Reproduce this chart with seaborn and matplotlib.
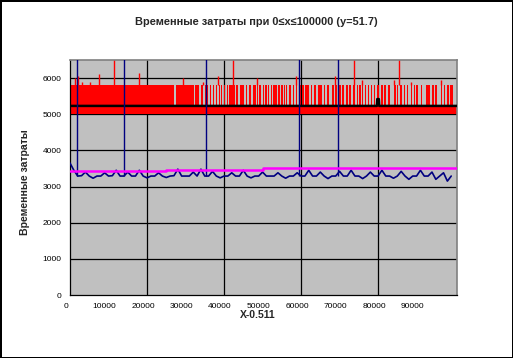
import numpy as np
import pandas as pd
import seaborn as sns
import matplotlib
matplotlib.use("Agg")
import matplotlib.pyplot as plt
from matplotlib.transforms import ScaledTranslation

# --- data ---
x_ticks = [0, 10000, 20000, 30000, 40000, 50000, 60000, 70000, 80000, 90000]
x_grid = [20000, 40000, 60000, 80000]
y_ticks = [0, 1000, 2000, 3000, 4000, 5000, 6000]

# red series: dense swings between red_lo and red_hi inside these runs,
# otherwise it stays in the lower band red_lo..red_base
red_lo = 5000
red_base = 5240
red_hi = 5800
red_run_start = [0, 27400, 32560, 34030, 35140, 36260, 37030, 37810, 38580, 39280,
                 39970, 40750, 41420, 43230, 44110, 45740, 46590, 47630, 48660, 49180,
                 50040, 50730, 51420, 52110, 52800, 53320, 54000, 54870, 55560, 56070,
                 56930, 57800, 58660, 59350, 60210, 61060, 61590, 62610, 63480, 64340,
                 65030, 65890, 66760, 67960, 68810, 69850, 70710, 71580, 72500, 73400,
                 74420, 75110, 75800, 76490, 77340, 78220, 78890, 79760, 80800, 81650,
                 82510, 84060, 84920, 85790, 86650, 87520, 88550, 89230, 89920, 91140,
                 92330, 93020, 94060, 94910, 96310, 97160, 98020, 98710]
red_run_end = [27100, 32100, 33420, 34630, 35740, 36610, 37290, 38060, 38840, 39530,
               40230, 41010, 42890, 43750, 45220, 46080, 47030, 48240, 48920, 49700,
               50390, 51080, 51760, 52450, 53150, 53660, 54520, 55210, 55900, 56410,
               57280, 58140, 59000, 59870, 60720, 61420, 62100, 62960, 63820, 64860,
               65550, 66330, 67260, 68480, 69330, 70360, 71240, 72090, 72900, 73900,
               74760, 75450, 76140, 76830, 77700, 78550, 79240, 80280, 81320, 82170,
               83030, 84580, 85270, 86130, 87000, 87860, 88890, 89590, 90440, 91470,
               92840, 93540, 94570, 95260, 96640, 97500, 98370, 99560]
red_spike_x = [1300, 2150, 3200, 5200, 7500, 11450, 17800, 29290, 34450, 38330,
               42380, 48660, 58740, 68820, 73720, 75800, 84240, 85360, 88550, 96460]
red_spike_y = [6000, 6050, 5900, 5900, 6100, 6600, 6150, 6000, 5900, 6050,
               6600, 6000, 6050, 6050, 6600, 5950, 5950, 6600, 5900, 5950]

# black (mean of red)
black_x = [0, 79700, 79800, 80200, 80300, 100500]
black_y = [5230, 5230, 5420, 5420, 5230, 5230]

# navy series, sampled every 1000
navy_x = list(range(0, 100000, 1000))
navy_y = [3650, 3450, 3290, 3300, 3400, 3290, 3230, 3290, 3290, 3380,
          3290, 3300, 3450, 3290, 3290, 3400, 3290, 3290, 3450, 3290,
          3240, 3290, 3290, 3380, 3290, 3250, 3290, 3300, 3480, 3290,
          3290, 3290, 3400, 3290, 3480, 3290, 3290, 3420, 3290, 3240,
          3290, 3290, 3380, 3290, 3290, 3450, 3290, 3240, 3290, 3290,
          3400, 3290, 3290, 3290, 3380, 3290, 3230, 3290, 3290, 3380,
          3290, 3290, 3450, 3290, 3290, 3400, 3290, 3220, 3290, 3290,
          3420, 3290, 3290, 3450, 3290, 3290, 3220, 3290, 3400, 3290,
          3290, 3450, 3290, 3290, 3230, 3290, 3420, 3290, 3200, 3290,
          3290, 3450, 3290, 3290, 3400, 3200, 3290, 3380, 3150, 3290]
navy_spike_x = [1900, 14000, 35200, 59350, 69600]
navy_spike_y = [6600, 6600, 6600, 6600, 6600]
navy_base = 3290

# magenta (mean of navy), steps
magenta_x = [0, 25000, 50000, 75000, 100500]
magenta_y = [3440, 3470, 3500, 3525, 3525]

sns.set_theme(style="white")
plt.rcParams["font.family"] = ["Liberation Sans", "DejaVu Sans"]

W, H = 513, 358
fig = plt.figure(figsize=(W / 100, H / 100), dpi=100)
fig.patch.set_facecolor("white")
fig.patch.set_edgecolor("black")
fig.patch.set_linewidth(2)
ax = fig.add_axes([70 / W, 1 - 295 / H, (457 - 70) / W, (295 - 60) / H])
ax.set_facecolor("#C0C0C0")

# grid (below data)
for gx in x_grid:
    ax.axvline(gx, color="black", lw=0.9, zorder=1)
for gy in y_ticks[1:]:
    ax.axhline(gy, color="black", lw=0.9, zorder=1)

# red series
runs = [(s, e - s) for s, e in zip(red_run_start, red_run_end)]
ax.broken_barh(runs, (red_lo, red_hi - red_lo), facecolor="#FF0000",
               edgecolor="none", antialiased=False, zorder=2)
ax.broken_barh([(0, black_x[-1])], (red_lo, red_base - red_lo), facecolor="#FF0000",
               edgecolor="none", antialiased=False, zorder=2)
ax.vlines(red_spike_x, red_hi, red_spike_y, color="#FF0000", lw=1, zorder=2)

sns.lineplot(x=black_x, y=black_y, color="black", lw=1.8, estimator=None,
             sort=False, ax=ax, zorder=3)

ax.vlines(navy_spike_x, navy_base, navy_spike_y, color="#000080", lw=1, zorder=4)
sns.lineplot(x=navy_x, y=navy_y, color="#000080", lw=1.2, estimator=None, ax=ax, zorder=4)

sns.lineplot(x=magenta_x, y=magenta_y, color="#FF00FF", lw=1.8, estimator=None,
             drawstyle="steps-post", ax=ax, zorder=5)

ax.set_xlim(0, 100500)
ax.set_ylim(0, 6500)
ax.set_xticks(x_ticks)
ax.set_xticklabels([str(v) for v in x_ticks], fontsize=6)
ax.set_yticks(y_ticks)
ax.set_yticklabels([str(v) for v in y_ticks], fontsize=6)
ax.tick_params(axis="y", which="major", direction="out", length=4, width=0.8,
               color="black", pad=2, labelcolor="black")
ax.tick_params(axis="x", which="major", length=0, pad=6, labelcolor="black")
ax.grid(False)
for lab in ax.get_xticklabels():
    lab.set_transform(lab.get_transform() + ScaledTranslation(-4 / 100, 0, fig.dpi_scale_trans))

for side in ["left", "bottom"]:
    ax.spines[side].set_color("black")
    ax.spines[side].set_linewidth(0.9)
for side in ["top", "right"]:
    ax.spines[side].set_color("#808080")
    ax.spines[side].set_linewidth(1.2)

fig.text(256 / W, 1 - 22 / H, "Временные затраты при 0≤x≤100000 (y=51.7)",
         ha="center", va="center", fontsize=7.9, fontweight="bold")
fig.text(258 / W, 1 - 315 / H, "X-0.511", ha="center", va="center",
         fontsize=7.5, fontweight="bold")
fig.text(25 / W, 1 - 182 / H, "Временные затраты", ha="center", va="center",
         rotation=90, fontsize=7.6, fontweight="bold")

fig.savefig("out.png", dpi=100)
